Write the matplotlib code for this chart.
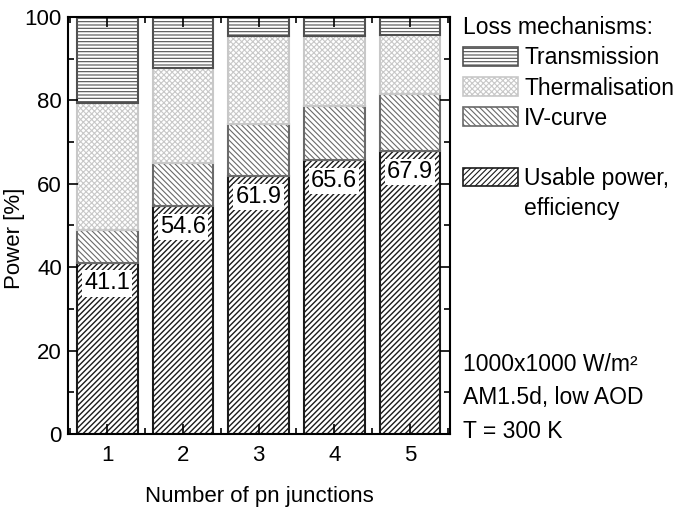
"""
Stacked bar chart of the power split of multi-junction solar cells.
"""

import matplotlib

matplotlib.use("Agg")
import matplotlib.pyplot as plt
import numpy as np
from matplotlib.patches import Patch
from matplotlib.ticker import MultipleLocator

plt.rcParams["font.family"] = ["Liberation Sans", "DejaVu Sans"]

# Values (percent of incident power)
junctions = [1, 2, 3, 4, 5]
usable = [41.1, 54.6, 61.9, 65.6, 67.9]
iv_curve = [7.7, 10.5, 12.4, 13.1, 13.7]
thermalisation = [30.5, 22.7, 21.2, 16.8, 14.0]
transmission = [20.7, 12.2, 4.5, 4.5, 4.4]

# name, values, colour, hatch, hatch line width
layers = [
    ("Usable power,", usable, "#1a1a1a", "//////", 1.0),
    ("IV-curve", iv_curve, "#6a6a6a", "\\\\\\\\\\\\", 0.8),
    ("Thermalisation", thermalisation, "#c8c8c8", "xxxxxx", 0.8),
    ("Transmission", transmission, "#505050", "-----", 0.8),
]

fig = plt.figure(figsize=(6.78, 5.07), dpi=100)
ax = fig.add_axes([0.1003, 0.144, 0.5634, 0.8225])

x = np.array(junctions)
bottom = np.zeros(len(junctions))
handles = {}
for name, vals, col, hatch, hlw in layers:
    plt.rcParams["hatch.linewidth"] = hlw
    ax.bar(x, vals, width=0.8, bottom=bottom, facecolor="white",
           edgecolor=col, hatch=hatch, linewidth=1.5)
    handles[name] = Patch(facecolor="white", edgecolor=col, hatch=hatch,
                          linewidth=1.2)
    bottom = bottom + np.array(vals)

# Efficiency labels in white boxes
for xi, val in zip(x, usable):
    ax.text(xi, val - 5, f"{val:.1f}", ha="center", va="center", fontsize=17,
            bbox=dict(facecolor="white", edgecolor="none", pad=1.5))

ax.set_xlim(0.48, 5.53)
ax.set_ylim(0, 100)
ax.xaxis.set_major_locator(MultipleLocator(1))
ax.xaxis.set_minor_locator(MultipleLocator(0.5))
ax.yaxis.set_major_locator(MultipleLocator(20))
ax.yaxis.set_minor_locator(MultipleLocator(10))
ax.tick_params(which="both", direction="in", top=True, right=True, width=1.2)
ax.tick_params(which="major", length=7, labelsize=16)
ax.tick_params(axis="x", which="major", pad=8)
ax.tick_params(axis="y", which="major", pad=4.5)
ax.tick_params(which="minor", length=4)
for sp in ax.spines.values():
    sp.set_linewidth(1.5)

ax.set_xlabel("Number of pn junctions", fontsize=16, labelpad=14)
ax.set_ylabel("Power [%]", fontsize=16)
ax.yaxis.set_label_coords(-0.113, 0.47)

blank = Patch(facecolor="none", edgecolor="none")
leg_handles = [handles["Transmission"], handles["Thermalisation"],
               handles["IV-curve"], blank, handles["Usable power,"], blank]
leg_labels = ["Transmission", "Thermalisation", "IV-curve", "",
              "Usable power,", "efficiency"]
ax.legend(leg_handles, leg_labels, title="Loss mechanisms:",
          loc="upper left", bbox_to_anchor=(1.005, 1.029), frameon=False,
          fontsize=16.5, title_fontsize=16.5, handlelength=2.4,
          handleheight=0.87, handletextpad=0.26, labelspacing=0.31,
          borderpad=0.5, borderaxespad=0.0, alignment="left")

fig.text(0.683, 0.215, "1000x1000 W/m²\nAM1.5d, low AOD\nT = 300 K",
         ha="left", va="center", fontsize=16.5, linespacing=1.58)

fig.savefig("out.png", dpi=100)
